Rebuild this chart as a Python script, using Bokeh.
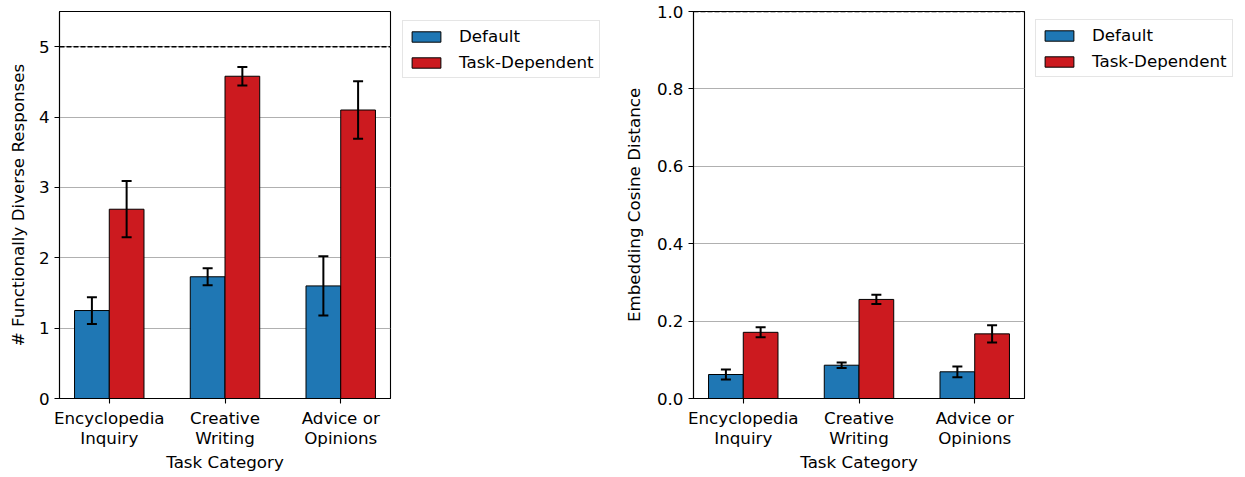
from bokeh.plotting import figure
from bokeh.models import (ColumnDataSource, Whisker, TeeHead, Span, Legend, LegendItem,
                          FixedTicker, PrintfTickFormatter, Range1d)
from bokeh.transform import dodge
from bokeh.layouts import row
from bokeh.embed import file_html
from bokeh.resources import INLINE

# ---------------- data ----------------
categories = ["Encyclopedia\nInquiry", "Creative\nWriting", "Advice or\nOpinions"]
series_names = ["Default", "Task-Dependent"]

left_default = [1.25, 1.73, 1.60]
left_default_err = [0.19, 0.12, 0.42]
left_task = [2.69, 4.58, 4.10]
left_task_err = [0.40, 0.13, 0.41]

right_default = [0.062, 0.086, 0.069]
right_default_err = [0.013, 0.007, 0.014]
right_task = [0.171, 0.256, 0.167]
right_task_err = [0.013, 0.012, 0.022]

left_ticks = [0, 1, 2, 3, 4, 5]
right_ticks = [0.0, 0.2, 0.4, 0.6, 0.8, 1.0]
left_ref = 5
right_ref = 1.0

BLUE = "#1f77b4"
RED = "#cc1a1f"
FONT = "DejaVu Sans"
FS = "16.7px"
BAR_W = 0.3
FIG_H = 469


def make_source(default, default_err, task, task_err):
    return ColumnDataSource(dict(
        x=list(range(len(categories))),
        d=default, d_up=[v + e for v, e in zip(default, default_err)],
        d_lo=[v - e for v, e in zip(default, default_err)],
        t=task, t_up=[v + e for v, e in zip(task, task_err)],
        t_lo=[v - e for v, e in zip(task, task_err)],
    ))


def make_panel(src, ylabel, ymax, yticks, ref, left_border, fmt, ylabel_standoff):
    xs = list(range(len(categories)))
    p = figure(frame_width=331, frame_height=387, output_backend="svg", toolbar_location=None,
               x_range=Range1d(-0.43, len(categories) - 1 + 0.43),
               y_range=Range1d(0, ymax),
               min_border_left=left_border, min_border_right=3,
               min_border_top=11, min_border_bottom=FIG_H - 11 - 387)
    p.background_fill_color = "white"
    p.border_fill_color = "white"
    p.outline_line_color = "black"
    p.outline_line_width = 1.1

    # grid
    p.xgrid.visible = False
    p.ygrid.grid_line_color = "#b0b0b0"
    p.ygrid.grid_line_width = 1.1
    p.ygrid.ticker = FixedTicker(ticks=yticks)

    # bars
    p.vbar(x=dodge("x", -BAR_W / 2), top="d", width=BAR_W, source=src,
           fill_color=BLUE, line_color="black", line_width=1)
    p.vbar(x=dodge("x", BAR_W / 2), top="t", width=BAR_W, source=src,
           fill_color=RED, line_color="black", line_width=1)

    # error bars
    for up, lo, off in (("d_up", "d_lo", -BAR_W / 2), ("t_up", "t_lo", BAR_W / 2)):
        w = Whisker(base=dodge("x", off), upper=up, lower=lo, source=src,
                    line_color="black", line_width=2, level="overlay",
                    upper_head=TeeHead(size=10, line_width=2, line_color="black"),
                    lower_head=TeeHead(size=10, line_width=2, line_color="black"))
        p.add_layout(w)

    # reference line
    p.add_layout(Span(location=ref, dimension="width", line_color="black",
                      line_width=1.5, line_dash="5 2"))

    # axes
    for ax in (p.xaxis[0], p.yaxis[0]):
        ax.axis_line_color = "black"
        ax.axis_line_width = 1.1
        ax.major_tick_line_color = "black"
        ax.major_tick_line_width = 1.1
        ax.major_tick_out = 5
        ax.major_tick_in = 0
        ax.minor_tick_line_color = None
        ax.major_label_text_font = FONT
        ax.major_label_text_font_size = FS
        ax.major_label_text_color = "black"
        ax.axis_label_text_font = FONT
        ax.axis_label_text_font_size = FS
        ax.axis_label_text_font_style = "normal"
        ax.axis_label_text_color = "black"

    p.xaxis.ticker = FixedTicker(ticks=xs)
    p.xaxis.major_label_overrides = {i: c for i, c in zip(xs, categories)}
    p.xaxis.major_label_text_line_height = 1.0
    p.xaxis.axis_label = "Task Category"
    p.xaxis.major_label_standoff = 4
    p.xaxis.axis_label_standoff = 1

    p.yaxis.ticker = FixedTicker(ticks=yticks)
    p.yaxis.formatter = PrintfTickFormatter(format=fmt)
    p.yaxis.axis_label = ylabel
    p.yaxis.major_label_standoff = 5
    p.yaxis.axis_label_standoff = ylabel_standoff
    return p


def make_legend_fig(src, width, box_margin):
    # a blank strip that only carries the legend, placed right of the plot
    lf = figure(width=width, height=FIG_H, output_backend="svg", toolbar_location=None,
                x_range=Range1d(0, 1), y_range=Range1d(0, 1),
                x_axis_location=None, y_axis_location=None,
                min_border_left=0, min_border_right=0, min_border_top=11,
                min_border_bottom=0, outline_line_color=None)
    lf.grid.visible = False
    lf.background_fill_color = "white"
    lf.border_fill_color = "white"
    r1 = lf.vbar(x="x", top="d", width=BAR_W, source=src, visible=False,
                 fill_color=BLUE, line_color="black", line_width=1)
    r2 = lf.vbar(x="x", top="t", width=BAR_W, source=src, visible=False,
                 fill_color=RED, line_color="black", line_width=1)
    legend = Legend(items=[LegendItem(label=series_names[0], renderers=[r1]),
                           LegendItem(label=series_names[1], renderers=[r2])],
                    location="top_left", padding=5, spacing=6, margin=box_margin,
                    glyph_width=36, glyph_height=13, label_height=13,
                    label_standoff=15, click_policy="none",
                    label_text_font=FONT, label_text_font_size=FS,
                    label_text_color="black",
                    border_line_color="#cccccc", border_line_width=1,
                    background_fill_color="white", background_fill_alpha=1)
    lf.add_layout(legend)
    return lf


src_left = make_source(left_default, left_default_err, left_task, left_task_err)
src_right = make_source(right_default, right_default_err, right_task, right_task_err)

p1 = make_panel(src_left, "# Functionally Diverse Responses", 5.5, left_ticks, left_ref,
                left_border=59, fmt="%d", ylabel_standoff=8)
leg1 = make_legend_fig(src_left, width=227, box_margin=9)
p2 = make_panel(src_right, "Embedding Cosine Distance", 1.0, right_ticks, right_ref,
                left_border=72, fmt="%.1f", ylabel_standoff=10)
leg2 = make_legend_fig(src_right, width=215, box_margin=8)

layout = row(p1, leg1, p2, leg2)
open("out.html", "w").write(file_html(layout, INLINE))
